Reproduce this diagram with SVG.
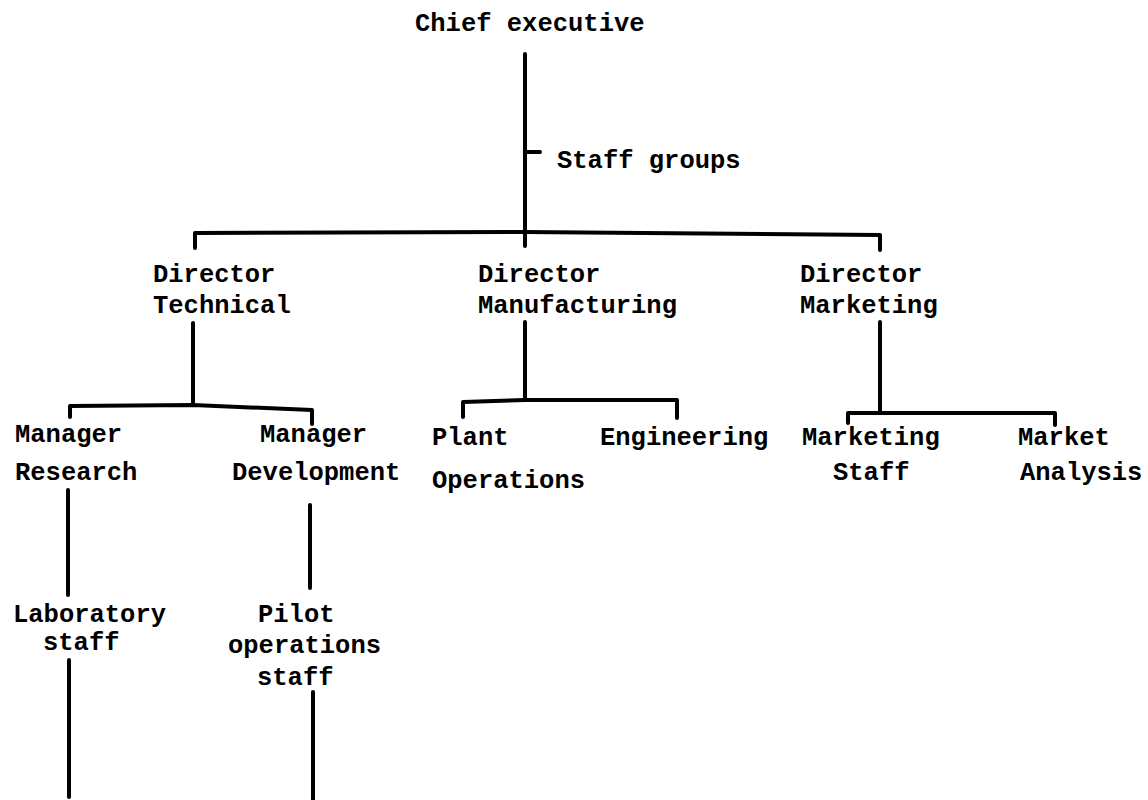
<svg xmlns="http://www.w3.org/2000/svg" width="1148" height="800" viewBox="0 0 1148 800">
  <style>
    text { font-family: "Liberation Mono", "DejaVu Sans Mono", monospace; font-weight: bold; font-size: 25.5px; fill: #000; }
    .ln { stroke: #000; stroke-width: 4; fill: none; stroke-linecap: round; stroke-linejoin: round; }
  </style>
  <rect width="1148" height="800" fill="#fff"/>

  <g id="connectors">
    <!-- chief executive trunk and staff tick -->
    <path class="ln" d="M525 54 V246"/>
    <path class="ln" d="M527 152 H540"/>
    <!-- director bar -->
    <path class="ln" d="M195 248 V233 L525 232 L880 235 V250"/>
    <!-- technical branch -->
    <path class="ln" d="M193 323 V405"/>
    <path class="ln" d="M70 417 V406 L193 405 L312 410 V424"/>
    <!-- manufacturing branch -->
    <path class="ln" d="M525 322 V400"/>
    <path class="ln" d="M463 417 V402 L525 400 L677 400 V418"/>
    <!-- marketing branch -->
    <path class="ln" d="M880 322 V412"/>
    <path class="ln" d="M848 423 V413 L1055 413 V425"/>
    <!-- research line -->
    <path class="ln" d="M68 490 V595"/>
    <path class="ln" d="M69 660 V797"/>
    <!-- development line -->
    <path class="ln" d="M310 505 V588"/>
    <path class="ln" d="M313 692 V800"/>
  </g>

  <g id="chief"><text x="415" y="31">Chief executive</text></g>
  <g id="staff-groups"><text x="557" y="168">Staff groups</text></g>

  <g id="dir-technical">
    <text x="153" y="282">Director</text>
    <text x="153" y="313">Technical</text>
  </g>
  <g id="dir-manufacturing">
    <text x="478" y="282">Director</text>
    <text x="478" y="313">Manufacturing</text>
  </g>
  <g id="dir-marketing">
    <text x="800" y="282">Director</text>
    <text x="800" y="313">Marketing</text>
  </g>

  <g id="mgr-research">
    <text x="15" y="442">Manager</text>
    <text x="15" y="480">Research</text>
  </g>
  <g id="mgr-development">
    <text x="260" y="442">Manager</text>
    <text x="232" y="480">Development</text>
  </g>
  <g id="plant-operations">
    <text x="432" y="445">Plant</text>
    <text x="432" y="488">Operations</text>
  </g>
  <g id="engineering"><text x="600" y="445">Engineering</text></g>
  <g id="marketing-staff">
    <text x="802" y="445">Marketing</text>
    <text x="833" y="480">Staff</text>
  </g>
  <g id="market-analysis">
    <text x="1018" y="445">Market</text>
    <text x="1020" y="480">Analysis</text>
  </g>

  <g id="laboratory-staff">
    <text x="13" y="622">Laboratory</text>
    <text x="43" y="650">staff</text>
  </g>
  <g id="pilot-staff">
    <text x="258" y="622">Pilot</text>
    <text x="228" y="653">operations</text>
    <text x="257" y="685">staff</text>
  </g>
</svg>
